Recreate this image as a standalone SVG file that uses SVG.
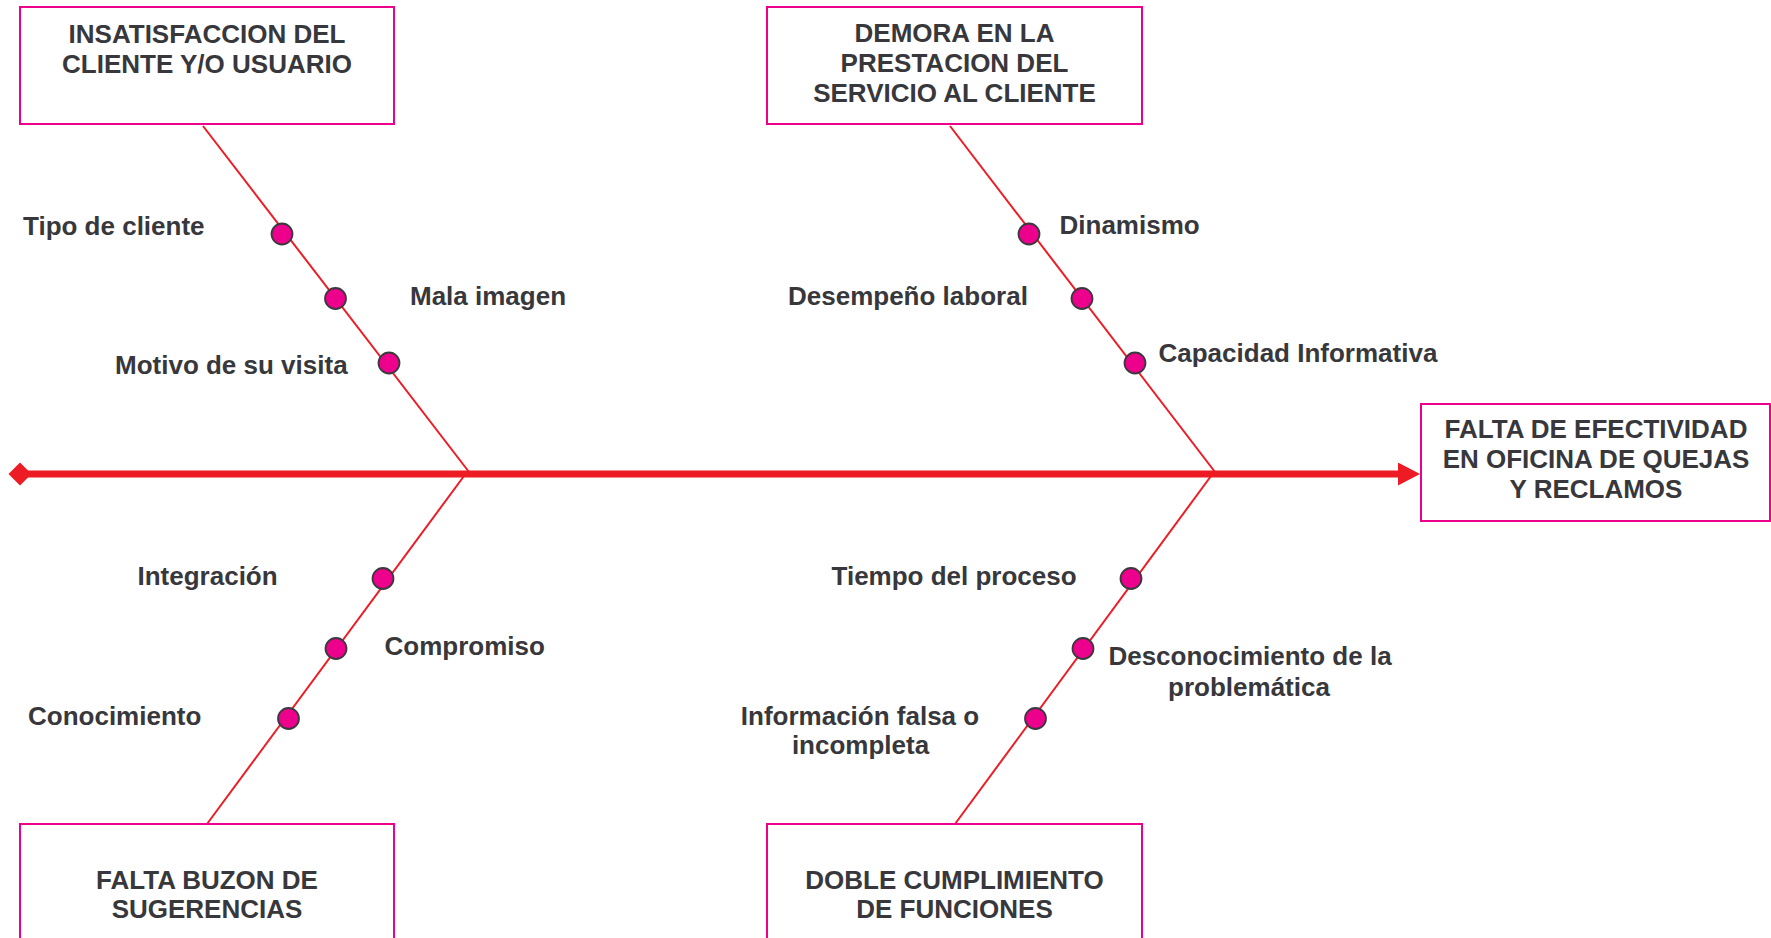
<svg xmlns="http://www.w3.org/2000/svg" width="1771" height="938" viewBox="0 0 1771 938">
  <style>
    .box { fill: #ffffff; stroke: #ec008c; stroke-width: 2; }
    .title { font-family: "Liberation Sans", Arial, sans-serif; font-weight: bold; font-size: 26px; fill: #37373c; text-anchor: middle; }
    .label { font-family: "Liberation Sans", Arial, sans-serif; font-weight: bold; font-size: 26px; fill: #37373c; }
    .mid { text-anchor: middle; }
    .bone { stroke: #ed1c24; stroke-width: 2; fill: none; }
    .spine { stroke: #ed1c24; stroke-width: 7; fill: none; }
    .dot { fill: #ec008c; stroke: #3a3a3e; stroke-width: 1.8; }
  </style>
  <defs>
    <marker id="tail" markerUnits="userSpaceOnUse" markerWidth="24" markerHeight="24" refX="12" refY="12" orient="auto">
      <path d="M0.5,12 L12,0.5 L23.5,12 L12,23.5 Z" fill="#ed1c24"/>
    </marker>
    <marker id="head" markerUnits="userSpaceOnUse" markerWidth="24" markerHeight="24" refX="2" refY="11.5" orient="auto">
      <path d="M0,0 L22,11.5 L0,23 Z" fill="#ed1c24"/>
    </marker>
  </defs>

  <rect width="1771" height="938" fill="#ffffff"/>

  <!-- spine and category bones -->
  <g id="connectors">
    <path class="spine" d="M20,474 H1400" marker-start="url(#tail)" marker-end="url(#head)"/>
    <line class="bone" x1="203" y1="126" x2="469" y2="472"/>
    <line class="bone" x1="950" y1="126" x2="1215" y2="472"/>
    <line class="bone" x1="464" y1="476" x2="207" y2="824"/>
    <line class="bone" x1="1211" y1="476" x2="955" y2="824"/>
  </g>

  <!-- effect -->
  <g id="effect">
    <rect class="box" x="1421" y="404" width="349" height="117"/>
    <text class="title" x="1596" y="438">FALTA DE EFECTIVIDAD</text>
    <text class="title" x="1596" y="468">EN OFICINA DE QUEJAS</text>
    <text class="title" x="1596" y="498">Y RECLAMOS</text>
  </g>

  <!-- categories -->
  <g id="cat-insatisfaccion">
    <rect class="box" x="20" y="7" width="374" height="117"/>
    <text class="title" x="207" y="43">INSATISFACCION DEL</text>
    <text class="title" x="207" y="73">CLIENTE Y/O USUARIO</text>
  </g>
  <g id="cat-demora">
    <rect class="box" x="767" y="7" width="375" height="117"/>
    <text class="title" x="954.5" y="42">DEMORA EN LA</text>
    <text class="title" x="954.5" y="72">PRESTACION DEL</text>
    <text class="title" x="954.5" y="102">SERVICIO AL CLIENTE</text>
  </g>
  <g id="cat-buzon">
    <rect class="box" x="20" y="824" width="374" height="117"/>
    <text class="title" x="207" y="889">FALTA BUZON DE</text>
    <text class="title" x="207" y="918">SUGERENCIAS</text>
  </g>
  <g id="cat-doble">
    <rect class="box" x="767" y="824" width="375" height="117"/>
    <text class="title" x="954.5" y="889">DOBLE CUMPLIMIENTO</text>
    <text class="title" x="954.5" y="918">DE FUNCIONES</text>
  </g>

  <!-- causes: upper left -->
  <g id="cause-tipo-cliente">
    <circle class="dot" cx="282" cy="234" r="10.5"/>
    <text class="label" x="23" y="235">Tipo de cliente</text>
  </g>
  <g id="cause-mala-imagen">
    <circle class="dot" cx="335.5" cy="298.5" r="10.5"/>
    <text class="label" x="410" y="305">Mala imagen</text>
  </g>
  <g id="cause-motivo-visita">
    <circle class="dot" cx="389" cy="363" r="10.5"/>
    <text class="label" x="115" y="374">Motivo de su visita</text>
  </g>

  <!-- causes: upper right -->
  <g id="cause-dinamismo">
    <circle class="dot" cx="1029" cy="234" r="10.5"/>
    <text class="label" x="1059.5" y="234">Dinamismo</text>
  </g>
  <g id="cause-desempeno">
    <circle class="dot" cx="1082" cy="298.5" r="10.5"/>
    <text class="label" x="788" y="305">Desempeño laboral</text>
  </g>
  <g id="cause-capacidad">
    <circle class="dot" cx="1135" cy="363" r="10.5"/>
    <text class="label" x="1158.5" y="361.5">Capacidad Informativa</text>
  </g>

  <!-- causes: lower left -->
  <g id="cause-integracion">
    <circle class="dot" cx="383" cy="578.5" r="10.5"/>
    <text class="label" x="137.5" y="585">Integración</text>
  </g>
  <g id="cause-compromiso">
    <circle class="dot" cx="336" cy="648.5" r="10.5"/>
    <text class="label" x="384.5" y="655">Compromiso</text>
  </g>
  <g id="cause-conocimiento">
    <circle class="dot" cx="288.5" cy="718.5" r="10.5"/>
    <text class="label" x="28" y="725">Conocimiento</text>
  </g>

  <!-- causes: lower right -->
  <g id="cause-tiempo">
    <circle class="dot" cx="1131" cy="578.5" r="10.5"/>
    <text class="label" x="831.5" y="585">Tiempo del proceso</text>
  </g>
  <g id="cause-desconocimiento">
    <circle class="dot" cx="1083" cy="648.5" r="10.5"/>
    <text class="label mid" x="1250" y="665">Desconocimiento de la</text>
    <text class="label mid" x="1249" y="695.5">problemática</text>
  </g>
  <g id="cause-informacion">
    <circle class="dot" cx="1035.5" cy="718.5" r="10.5"/>
    <text class="label mid" x="860" y="725">Información falsa o</text>
    <text class="label mid" x="860.5" y="754">incompleta</text>
  </g>
</svg>
